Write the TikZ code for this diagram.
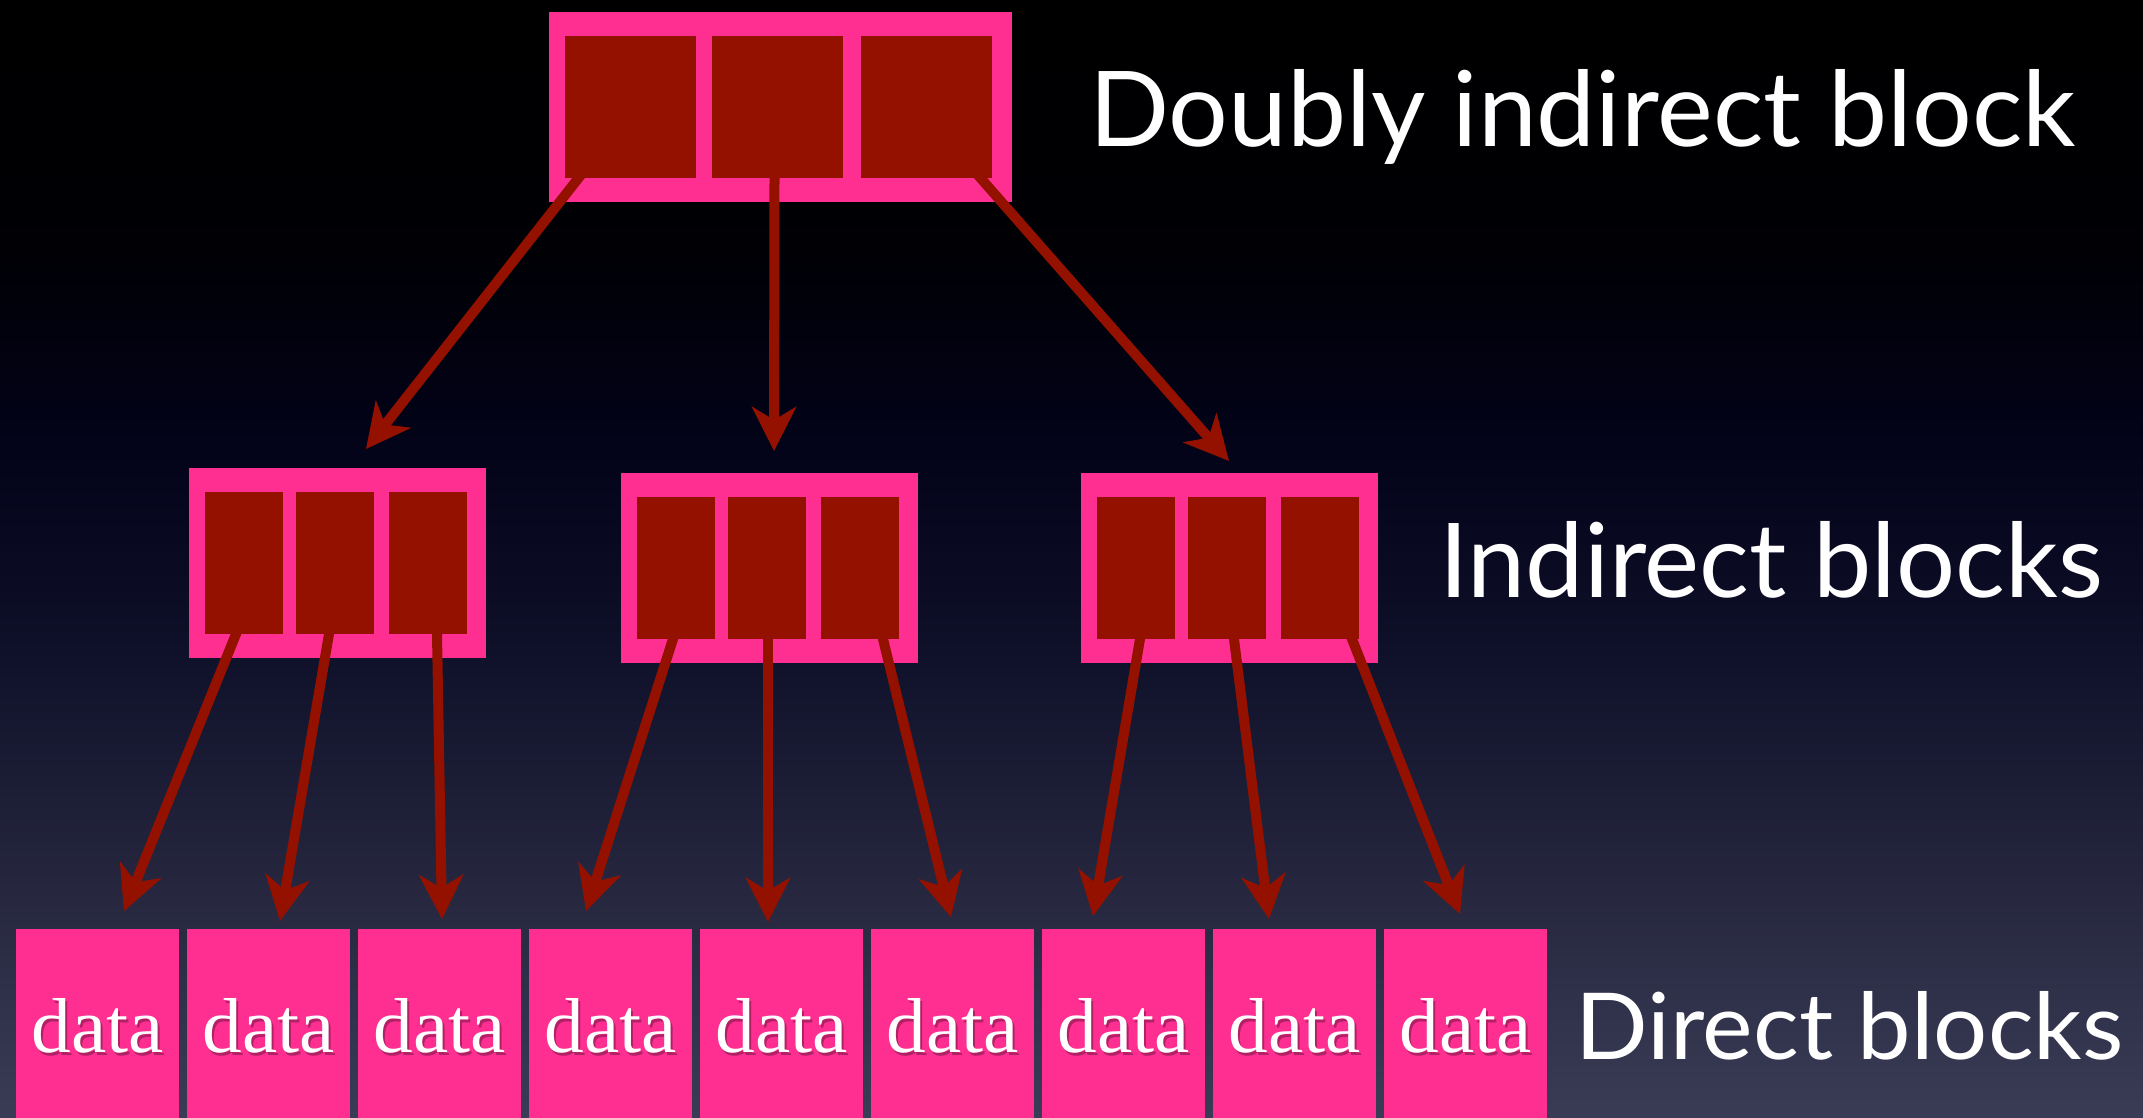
\documentclass[tikz,border=0pt]{standalone}
\usepackage{graphicx}
\usepackage{fontspec}
\setmainfont{Liberation Serif}
\newfontfamily\labelfont{Lato}
\usetikzlibrary{arrows.meta,calc}
\definecolor{blkpink}{RGB}{255,47,146}
\definecolor{cellred}{RGB}{148,17,0}
\definecolor{bgA}{RGB}{0,0,0}
\definecolor{bgB}{RGB}{0,0,5}
\definecolor{bgC}{RGB}{3,3,26}
\definecolor{bgD}{RGB}{15,16,41}
\definecolor{bgE}{RGB}{39,40,64}
\definecolor{bgF}{RGB}{58,59,85}
\tikzset{
  frame/.style={fill=blkpink, draw=none, inner sep=0pt, outer sep=0pt, anchor=north west},
  cell/.style={fill=cellred, draw=none, inner sep=0pt, outer sep=0pt, anchor=north west},
  datablk/.style={fill=blkpink, draw=none, inner sep=0pt, outer sep=0pt, anchor=north west,
    minimum width=163pt, minimum height=200pt},
  ptr/.style={draw=cellred, line width=10pt, shorten <=-8pt,
    -{Stealth[length=44pt,width=44pt,inset=13pt]}},
  lbl/.style={anchor=base west, inner sep=0pt, text=white},
  datatxt/.style={anchor=base, inner sep=0pt, text=white},
  datashadow/.style={anchor=base, inner sep=0pt, text=black, opacity=0.3}
}
\begin{document}
\begin{tikzpicture}[x=1pt,y=-1pt]
\useasboundingbox (0,0) rectangle (2143,1117);
% background
\shade[top color=bgA,bottom color=bgB,draw=none] (0,0) rectangle (2143,251);
\shade[top color=bgB,bottom color=bgC,draw=none] (0,250) rectangle (2143,451);
\shade[top color=bgC,bottom color=bgD,draw=none] (0,450) rectangle (2143,651);
\shade[top color=bgD,bottom color=bgE,draw=none] (0,650) rectangle (2143,901);
\shade[top color=bgE,bottom color=bgF,draw=none] (0,900) rectangle (2143,1117);

% doubly indirect block
\node[frame, minimum width=463pt, minimum height=190pt] (top) at (549,12) {};
\node[cell, minimum width=131pt, minimum height=142pt] (t1) at (565,36) {};
\node[cell, minimum width=131pt, minimum height=142pt] (t2) at (712,36) {};
\node[cell, minimum width=131pt, minimum height=142pt] (t3) at (861,36) {};

% indirect blocks
\node[frame, minimum width=297pt, minimum height=190pt] (i1) at (189,468) {};
\node[frame, minimum width=297pt, minimum height=190pt] (i2) at (621,473) {};
\node[frame, minimum width=297pt, minimum height=190pt] (i3) at (1081,473) {};
\foreach \b/\x/\y in {1/189/468, 2/621/473, 3/1081/473}{
  \node[cell, minimum width=78pt, minimum height=142pt] (c\b1) at (\x+16,\y+24) {};
  \node[cell, minimum width=78pt, minimum height=142pt] (c\b2) at (\x+107,\y+24) {};
  \node[cell, minimum width=78pt, minimum height=142pt] (c\b3) at (\x+200,\y+24) {};
}

% data blocks
\foreach \i in {1,...,9}{
  \node[datablk] (d\i) at ({16+171*(\i-1)},929) {};
  \node[datashadow] at ($(d\i.north)+(2.5,126)$) {\resizebox{132pt}{54pt}{data}};
  \node[datatxt] at ($(d\i.north)+(0.5,123)$) {\resizebox{132pt}{54pt}{data}};
}

% arrow tips
\coordinate (a1) at (366,449);
\coordinate (a2) at (774,451);
\coordinate (a3) at (1229,461);
\coordinate (p1) at (124,911);
\coordinate (p2) at (280,921);
\coordinate (p3) at (442,919);
\coordinate (p4) at (586,911);
\coordinate (p5) at (768,922);
\coordinate (p6) at (951,917);
\coordinate (p7) at (1093,916);
\coordinate (p8) at (1269,919);
\coordinate (p9) at (1460,914);

% arrows
\draw[ptr] ($(t1.south)+(-52,0)$) -- (a1);
\draw[ptr] ($(t2.south)+(-3,0)$) -- (a2);
\draw[ptr] ($(t3.south)+(54,0)$) -- (a3);

\draw[ptr] ($(c11.south)+(-8,0)$) -- (p1);
\draw[ptr] ($(c12.south)+(-6,0)$) -- (p2);
\draw[ptr] ($(c13.south)+(9,0)$) -- (p3);
\draw[ptr] ($(c21.south)+(-3,0)$) -- (p4);
\draw[ptr] ($(c22.south)+(1,0)$) -- (p5);
\draw[ptr] ($(c23.south)+(23,0)$) -- (p6);
\draw[ptr] ($(c31.south)+(4,0)$) -- (p7);
\draw[ptr] ($(c32.south)+(7,0)$) -- (p8);
\draw[ptr] ($(c33.south)+(32,0)$) -- (p9);

% labels
\node[lbl] (l1) at (1089,146) {\labelfont\resizebox{986pt}{77pt}{Doubly indirect block}};
\node[lbl] (l2) at (1439,597) {\labelfont\resizebox{664pt}{76pt}{Indirect blocks}};
\node[lbl] (l3) at (1575,1059) {\labelfont\resizebox{548pt}{68pt}{Direct blocks}};
\end{tikzpicture}
\end{document}
